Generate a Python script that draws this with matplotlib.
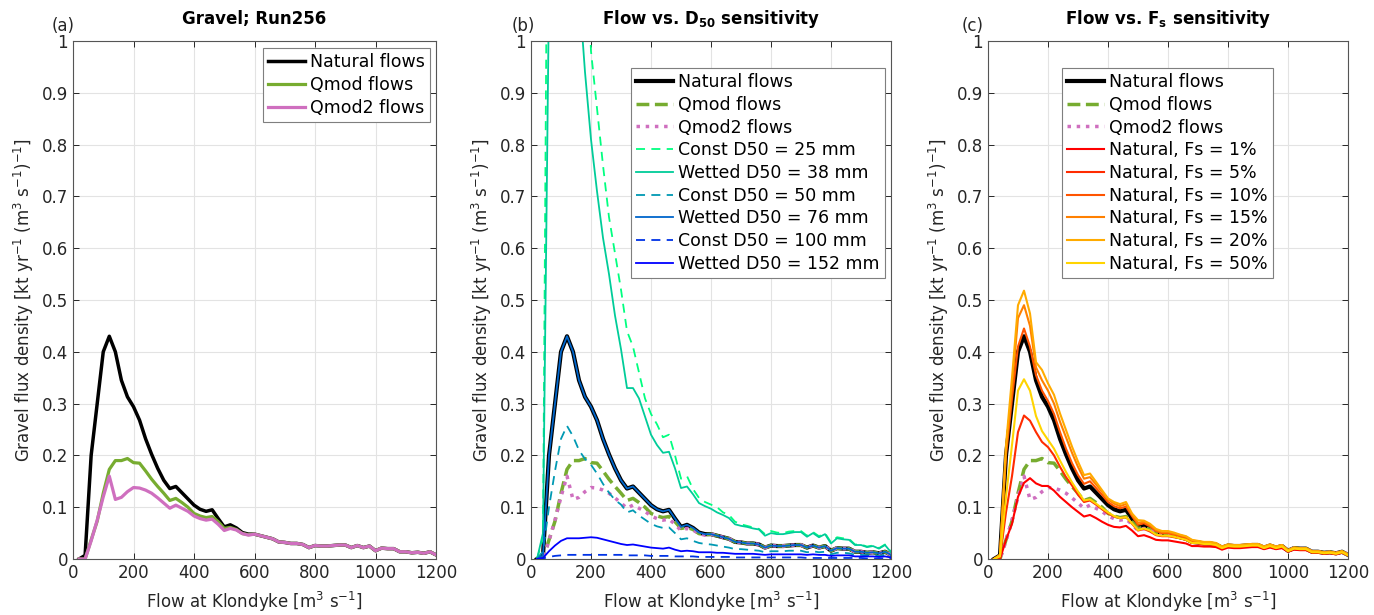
import numpy as np
import matplotlib
matplotlib.use('Agg')
import matplotlib.pyplot as plt

plt.rcParams['font.family'] = ['DejaVu Sans']
plt.rcParams['mathtext.default'] = 'regular'

# flow bins at Klondyke [m3/s]
flow = list(range(20, 1201, 20))

# shared tail, 600..1200
tail = [0.048, 0.045, 0.042, 0.039, 0.033, 0.032, 0.030, 0.030, 0.028, 0.022,
        0.026, 0.025, 0.025, 0.026, 0.027, 0.027, 0.022, 0.026, 0.022, 0.025,
        0.016, 0.021, 0.020, 0.020, 0.014, 0.014, 0.012, 0.013, 0.011, 0.014, 0.008]

natural = [0.0, 0.007, 0.20, 0.30, 0.40, 0.43, 0.40, 0.345, 0.313, 0.294,
           0.268, 0.232, 0.202, 0.175, 0.152, 0.136, 0.140, 0.128, 0.116, 0.104,
           0.096, 0.092, 0.095, 0.078, 0.062, 0.066, 0.060, 0.051, 0.048] + tail
qmod = [0.0, 0.0, 0.037, 0.073, 0.127, 0.173, 0.19, 0.19, 0.194, 0.186,
        0.185, 0.17, 0.154, 0.14, 0.127, 0.113, 0.117, 0.109, 0.10, 0.088,
        0.083, 0.080, 0.082, 0.072, 0.059, 0.061, 0.057, 0.049, 0.047] + tail
qmod2 = [0.0, 0.0, 0.035, 0.075, 0.12, 0.16, 0.115, 0.119, 0.13, 0.138,
         0.137, 0.133, 0.127, 0.118, 0.108, 0.098, 0.104, 0.098, 0.092, 0.083,
         0.078, 0.075, 0.077, 0.067, 0.055, 0.059, 0.056, 0.049, 0.046] + tail

# panel (b): D50 sensitivity
const25 = [0.0, 0.04, 1.8, 2.6, 3.0, 3.1, 2.3, 1.6, 1.25, 0.98,
           0.87, 0.76, 0.66, 0.59, 0.52, 0.44, 0.41, 0.36, 0.31, 0.28,
           0.26, 0.235, 0.24, 0.20, 0.155, 0.16, 0.135, 0.118, 0.11, 0.105,
           0.10, 0.09, 0.085, 0.072, 0.067, 0.064, 0.061, 0.058, 0.048, 0.054,
           0.051, 0.050, 0.053, 0.054, 0.054, 0.045, 0.052, 0.044, 0.050, 0.032,
           0.042, 0.040, 0.039, 0.028, 0.028, 0.024, 0.026, 0.021, 0.028, 0.014]
wet38 = [0.0, 0.05, 1.1, 1.6, 1.9, 1.8, 1.5, 1.1, 0.94, 0.81,
         0.71, 0.62, 0.55, 0.47, 0.405, 0.33, 0.33, 0.31, 0.275, 0.24,
         0.22, 0.205, 0.207, 0.175, 0.137, 0.14, 0.125, 0.108, 0.102, 0.097,
         0.09, 0.085, 0.079, 0.067, 0.064, 0.062, 0.059, 0.057, 0.045, 0.050,
         0.048, 0.048, 0.050, 0.052, 0.052, 0.043, 0.050, 0.042, 0.048, 0.030,
         0.040, 0.038, 0.037, 0.027, 0.027, 0.023, 0.025, 0.020, 0.027, 0.013]
const50 = [0.0, 0.015, 0.10, 0.17, 0.232, 0.257, 0.237, 0.21, 0.193, 0.182,
           0.165, 0.145, 0.128, 0.114, 0.105, 0.09, 0.094, 0.084, 0.076, 0.068,
           0.063, 0.060, 0.061, 0.050, 0.038, 0.040, 0.035, 0.031, 0.029, 0.028,
           0.026, 0.024, 0.022, 0.019, 0.019, 0.018, 0.017, 0.016, 0.013, 0.015,
           0.015, 0.015, 0.016, 0.016, 0.016, 0.013, 0.015, 0.013, 0.014, 0.009,
           0.012, 0.012, 0.011, 0.008, 0.008, 0.007, 0.008, 0.006, 0.008, 0.005]
wet76 = natural
const100 = [0.0, 0.001, 0.004, 0.006, 0.007, 0.008, 0.008, 0.008, 0.008, 0.008,
            0.008, 0.008, 0.008, 0.008, 0.008, 0.007, 0.007, 0.007, 0.007, 0.006,
            0.006, 0.006, 0.006, 0.005, 0.005, 0.005, 0.005, 0.004, 0.004, 0.004,
            0.004, 0.004, 0.004, 0.003, 0.003, 0.003, 0.003, 0.003, 0.003, 0.003,
            0.003, 0.003, 0.003, 0.003, 0.003, 0.002, 0.002, 0.002, 0.002, 0.002,
            0.002, 0.002, 0.002, 0.002, 0.002, 0.001, 0.001, 0.001, 0.001, 0.001]
wet152 = [0.0, 0.002, 0.015, 0.026, 0.035, 0.04, 0.04, 0.04, 0.041, 0.042,
          0.041, 0.038, 0.035, 0.032, 0.029, 0.027, 0.028, 0.026, 0.024, 0.022,
          0.021, 0.020, 0.022, 0.018, 0.015, 0.016, 0.015, 0.013, 0.013, 0.013,
          0.012, 0.012, 0.011, 0.010, 0.010, 0.010, 0.010, 0.009, 0.008, 0.009,
          0.009, 0.009, 0.009, 0.009, 0.009, 0.008, 0.009, 0.008, 0.008, 0.006,
          0.007, 0.007, 0.007, 0.005, 0.005, 0.005, 0.005, 0.004, 0.005, 0.003]

# panel (c): sand fraction sensitivity
fs1 = [0.0, 0.0, 0.037, 0.068, 0.12, 0.147, 0.156, 0.146, 0.141, 0.141,
       0.132, 0.12, 0.11, 0.10, 0.091, 0.082, 0.085, 0.079, 0.072, 0.066,
       0.062, 0.061, 0.064, 0.055, 0.044, 0.046, 0.042, 0.037, 0.036, 0.036,
       0.034, 0.032, 0.030, 0.025, 0.025, 0.024, 0.024, 0.023, 0.018, 0.022,
       0.021, 0.021, 0.022, 0.023, 0.023, 0.019, 0.022, 0.019, 0.021, 0.014,
       0.018, 0.017, 0.017, 0.012, 0.012, 0.010, 0.011, 0.009, 0.012, 0.007]
fs5 = [0.0, 0.003, 0.09, 0.16, 0.245, 0.277, 0.267, 0.245, 0.226, 0.216,
       0.20, 0.178, 0.158, 0.142, 0.124, 0.11, 0.113, 0.105, 0.096, 0.088,
       0.082, 0.079, 0.081, 0.068, 0.055, 0.058, 0.053, 0.046, 0.044, 0.044,
       0.042, 0.040, 0.037, 0.031, 0.030, 0.028, 0.028, 0.026, 0.021, 0.025,
       0.024, 0.024, 0.025, 0.026, 0.026, 0.021, 0.025, 0.021, 0.024, 0.015,
       0.020, 0.019, 0.019, 0.013, 0.013, 0.011, 0.012, 0.010, 0.013, 0.007]
fs10 = [0.0, 0.007, 0.20, 0.31, 0.41, 0.445, 0.41, 0.355, 0.325, 0.305,
        0.28, 0.245, 0.213, 0.185, 0.162, 0.145, 0.15, 0.137, 0.124, 0.11,
        0.102, 0.098, 0.101, 0.083, 0.066, 0.069, 0.063, 0.054, 0.050, 0.050,
        0.047, 0.044, 0.041, 0.034, 0.033, 0.031, 0.031, 0.029, 0.023, 0.027,
        0.026, 0.026, 0.027, 0.028, 0.028, 0.023, 0.027, 0.023, 0.026, 0.016,
        0.021, 0.020, 0.020, 0.014, 0.014, 0.012, 0.013, 0.011, 0.014, 0.008]
fs15 = [0.0, 0.008, 0.21, 0.33, 0.465, 0.49, 0.45, 0.37, 0.345, 0.325,
        0.30, 0.265, 0.235, 0.205, 0.178, 0.155, 0.158, 0.144, 0.13, 0.115,
        0.107, 0.102, 0.106, 0.086, 0.070, 0.072, 0.066, 0.056, 0.052, 0.052,
        0.049, 0.046, 0.043, 0.036, 0.034, 0.032, 0.032, 0.030, 0.024, 0.028,
        0.027, 0.027, 0.028, 0.029, 0.029, 0.024, 0.028, 0.024, 0.027, 0.017,
        0.022, 0.021, 0.021, 0.015, 0.015, 0.013, 0.014, 0.012, 0.015, 0.009]
fs20 = [0.0, 0.008, 0.22, 0.35, 0.49, 0.518, 0.474, 0.38, 0.365, 0.339,
        0.317, 0.281, 0.249, 0.217, 0.188, 0.162, 0.165, 0.149, 0.133, 0.117,
        0.11, 0.106, 0.11, 0.088, 0.075, 0.074, 0.068, 0.058, 0.054, 0.054,
        0.051, 0.047, 0.044, 0.037, 0.035, 0.033, 0.033, 0.031, 0.024, 0.028,
        0.027, 0.027, 0.028, 0.029, 0.029, 0.024, 0.028, 0.024, 0.027, 0.017,
        0.022, 0.021, 0.021, 0.015, 0.015, 0.013, 0.014, 0.012, 0.015, 0.009]
fs50 = [0.0, 0.005, 0.12, 0.22, 0.325, 0.347, 0.325, 0.276, 0.247, 0.23,
        0.213, 0.19, 0.168, 0.148, 0.13, 0.113, 0.115, 0.107, 0.098, 0.09,
        0.083, 0.079, 0.081, 0.069, 0.056, 0.059, 0.055, 0.047, 0.045, 0.045,
        0.043, 0.040, 0.037, 0.031, 0.031, 0.029, 0.029, 0.027, 0.021, 0.025,
        0.024, 0.024, 0.025, 0.026, 0.026, 0.021, 0.025, 0.021, 0.024, 0.015,
        0.020, 0.019, 0.019, 0.013, 0.013, 0.011, 0.012, 0.010, 0.013, 0.007]

c_green = '#77AC30'
c_pink = '#CF6FBF'
dash_thin = (5, 3.5)


def style_ax(ax, title):
    ax.set_xlim(0, 1200)
    ax.set_ylim(0, 1)
    ax.set_xticks(range(0, 1201, 200))
    ax.set_yticks(np.arange(0, 1.01, 0.1))
    ax.set_yticklabels(['0', '0.1', '0.2', '0.3', '0.4', '0.5', '0.6', '0.7', '0.8', '0.9', '1'])
    ax.grid(True, color='#e3e3e3', lw=0.8)
    ax.set_axisbelow(True)
    ax.tick_params(direction='in', top=True, right=True, length=4,
                   labelsize=12, colors='#262626', width=0.7)
    for s in ax.spines.values():
        s.set_color('#555555')
        s.set_linewidth(0.8)
    ax.set_xlabel('Flow at Klondyke [m$^3$ s$^{-1}$]', fontsize=12, color='#262626', labelpad=6)
    ax.set_ylabel('Gravel flux density [kt yr$^{-1}$ (m$^3$ s$^{-1}$)$^{-1}$]',
                  fontsize=12, color='#262626', labelpad=4)
    ax.set_title(title, fontsize=12, fontweight='bold', pad=12)


def add_legend(ax, x, y):
    leg = ax.legend(loc='upper left', bbox_to_anchor=(x, y), fontsize=12.5,
                    handlelength=2.1, handletextpad=0.3, labelspacing=0.27,
                    borderpad=0.3, borderaxespad=0, fancybox=False, framealpha=1)
    leg.get_frame().set_edgecolor('#7f7f7f')
    leg.get_frame().set_linewidth(0.8)


fig = plt.figure(figsize=(13.74, 6.15), dpi=100)
ax1 = fig.add_axes([73/1374, 56/615, 363/1374, 518/615])
ax2 = fig.add_axes([531/1374, 56/615, 360/1374, 518/615])
ax3 = fig.add_axes([988/1374, 56/615, 360/1374, 518/615])

# (a)
ax1.plot(flow, natural, color='black', lw=2.5, label='Natural flows')
ax1.plot(flow, qmod, color=c_green, lw=2.3, label='Qmod flows')
ax1.plot(flow, qmod2, color=c_pink, lw=2.3, label='Qmod2 flows')
style_ax(ax1, 'Gravel; Run256')
add_legend(ax1, 0.523, 0.986)

# (b)
ax2.plot(flow, natural, color='black', lw=3, label='Natural flows')
ax2.plot(flow, qmod, color=c_green, lw=2.5, ls='--', label='Qmod flows')
ax2.plot(flow, qmod2, color=c_pink, lw=2.5, ls=':', label='Qmod2 flows')
ax2.plot(flow, const25, color=(0, 1, 0.5), lw=1.3, ls='--', dashes=dash_thin, label='Const D50 = 25 mm')
ax2.plot(flow, wet38, color=(0, 0.8, 0.6), lw=1.3, label='Wetted D50 = 38 mm')
ax2.plot(flow, const50, color=(0, 0.6, 0.7), lw=1.3, ls='--', dashes=dash_thin, label='Const D50 = 50 mm')
ax2.plot(flow, wet76, color=(0, 0.4, 0.8), lw=1.3, label='Wetted D50 = 76 mm')
ax2.plot(flow, const100, color=(0, 0.2, 0.9), lw=1.3, ls='--', dashes=dash_thin, label='Const D50 = 100 mm')
ax2.plot(flow, wet152, color=(0, 0, 1), lw=1.3, label='Wetted D50 = 152 mm')
style_ax(ax2, 'Flow vs. D$_{\\bf 50}$ sensitivity')
add_legend(ax2, 0.278, 0.948)

# (c)
ax3.plot(flow, natural, color='black', lw=3, label='Natural flows')
ax3.plot(flow, qmod, color=c_green, lw=2.5, ls='--', label='Qmod flows')
ax3.plot(flow, qmod2, color=c_pink, lw=2.5, ls=':', label='Qmod2 flows')
fs_series = [fs1, fs5, fs10, fs15, fs20, fs50]
fs_names = ['1%', '5%', '10%', '15%', '20%', '50%']
fs_colors = [(1, 0, 0), (1, 0.17, 0), (1, 0.33, 0), (1, 0.5, 0), (1, 0.67, 0), (1, 0.83, 0)]
for ys, nm, c in zip(fs_series, fs_names, fs_colors):
    ax3.plot(flow, ys, color=c, lw=1.5, label='Natural, Fs = ' + nm)
style_ax(ax3, 'Flow vs. F$_{\\bf s}$ sensitivity')
add_legend(ax3, 0.206, 0.948)

for lab, xp in zip(['(a)', '(b)', '(c)'], [52, 512, 962]):
    fig.text(xp/1374, 1 - 26/615, lab, fontsize=12, color='#262626', va='center')

fig.savefig('out.png', dpi=100)
